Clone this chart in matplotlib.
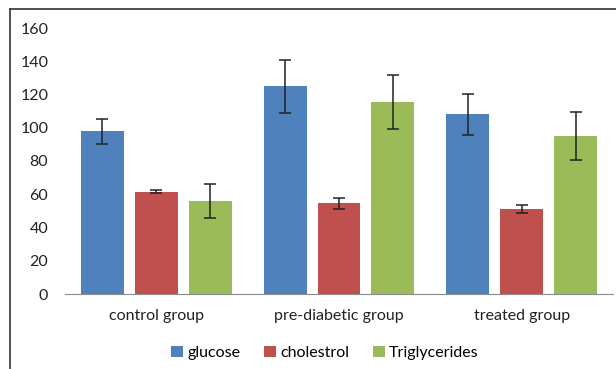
import matplotlib.pyplot as plt
import numpy as np
from matplotlib.lines import Line2D

groups = ["control group", "pre-diabetic group", "treated group"]
series = ["glucose", "cholestrol", "Triglycerides"]
glucose = [98, 125, 108]
glucose_err = [7.5, 16, 12.5]
cholestrol = [61.5, 54.5, 51]
cholestrol_err = [1, 3.5, 2.3]
triglycerides = [56, 115.5, 95]
triglycerides_err = [10, 16.3, 14.5]

colors = ["#4F81BD", "#C0504D", "#9BBB59"]

plt.rcParams["font.family"] = ["Lato", "DejaVu Sans"]
plt.rcParams["font.size"] = 11.5

fig = plt.figure(figsize=(6.16, 3.69), dpi=100)
ax = fig.add_axes([65 / 616, 1 - 294 / 369, 548 / 616, 266 / 369])

x = np.arange(len(groups))
width = 0.235
step = 0.295
values = [glucose, cholestrol, triglycerides]
errors = [glucose_err, cholestrol_err, triglycerides_err]
for i, (vals, errs) in enumerate(zip(values, errors)):
    ax.bar(x + (i - 1) * step, vals, width, color=colors[i], label=series[i],
           yerr=errs, error_kw=dict(ecolor="#222222", elinewidth=1.1, capsize=4, capthick=1.1))

ax.set_xlim(-0.5, 2.5)
ax.set_ylim(0, 160)
ax.set_yticks(range(0, 161, 20))
ax.set_xticks(x)
ax.set_xticklabels(groups)
for side in ["top", "right", "left"]:
    ax.spines[side].set_visible(False)
ax.spines["bottom"].set_color("#8c8c8c")
ax.tick_params(axis="both", length=0, colors="#222222")
ax.tick_params(axis="y", pad=12)
ax.tick_params(axis="x", pad=11)

ax.legend(loc="center", bbox_to_anchor=(325 / 616, 1 - 353 / 369), bbox_transform=fig.transFigure,
          ncol=3, frameon=False, handlelength=0.75, handleheight=0.75, handletextpad=0.25, columnspacing=1.5)

# outer chart frame (partially cropped in the reference)
fig.add_artist(Line2D([10 / 616, 10 / 616], [0, 1 - 9 / 369], transform=fig.transFigure, color="#333333", lw=1.2))
fig.add_artist(Line2D([10 / 616, 1], [1 - 9 / 369, 1 - 9 / 369], transform=fig.transFigure, color="#333333", lw=1.2))

fig.savefig("out.png", dpi=100)
